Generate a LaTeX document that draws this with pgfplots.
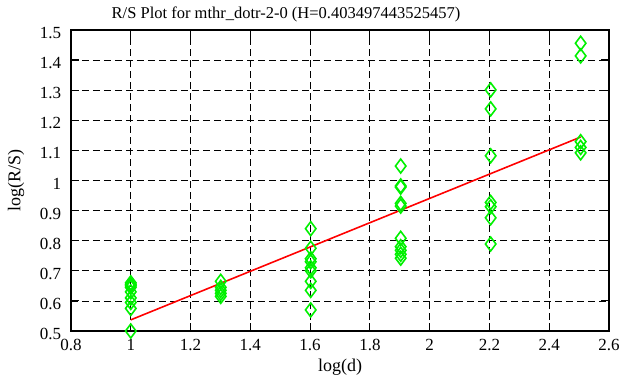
\documentclass[border=0pt]{standalone}
\usepackage{fontspec}
\setmainfont{Liberation Serif}
\usepackage{pgfplots}
\pgfplotsset{compat=1.18}
\usetikzlibrary{calc}
\definecolor{mgreen}{RGB}{0,240,0}
\begin{document}
\fontsize{17bp}{20bp}\selectfont
\begin{tikzpicture}
\begin{axis}[
  scale only axis,
  width=538bp, height=301bp,
  xmin=0.8, xmax=2.6, ymin=0.5, ymax=1.5,
  xtick={0.8,1,1.2,1.4,1.6,1.8,2,2.2,2.4,2.6},
  ytick={0.5,0.6,0.7,0.8,0.9,1,1.1,1.2,1.3,1.4,1.5},
  /pgf/number format/assume math mode=true,
  /pgf/number format/fixed,
  tick align=inside,
  major tick length=8bp,
  tick style={black, line width=1.2pt},
  axis line style={line width=1.5pt},
  grid=major,
  major grid style={black, line width=0.8pt, dash pattern=on 7bp off 4bp},
  ticklabel style={font=\fontsize{17bp}{20bp}\selectfont},
  yticklabel style={xshift=-4bp, yshift=-3bp},
  xticklabel style={yshift=-2bp},
  xlabel={log(d)}, ylabel={log(R/S)},
  label style={font=\fontsize{18bp}{21bp}\selectfont},
  xlabel style={yshift=3bp},
  ylabel style={yshift=4bp},
  title={R/S Plot for mthr\_dotr-2-0 (H=0.403497443525457)},
  title style={font=\fontsize{16.5bp}{19bp}\selectfont, yshift=-4bp, xshift=-54bp},
  clip=false,
]
\addplot[only marks, mark=diamond, mark size=7bp, mgreen, mark options={line width=1.6pt}] coordinates {
(1,0.66) (1,0.655) (1,0.65) (1,0.645) (1,0.63) (1,0.61) (1,0.595) (1,0.575) (1,0.50)
(1.30103,0.665) (1.30103,0.645) (1.30103,0.635) (1.30103,0.625) (1.30103,0.615)
(1.60206,0.84) (1.60206,0.775) (1.60206,0.74) (1.60206,0.73) (1.60206,0.71) (1.60206,0.70) (1.60206,0.665) (1.60206,0.635) (1.60206,0.57)
(1.90309,1.048) (1.90309,0.982) (1.90309,0.978) (1.90309,0.924) (1.90309,0.915) (1.90309,0.808) (1.90309,0.78) (1.90309,0.768) (1.90309,0.755) (1.90309,0.742)
(2.20412,1.301) (2.20412,1.238) (2.20412,1.082) (2.20412,0.927) (2.20412,0.913) (2.20412,0.876) (2.20412,0.789)
(2.50515,1.456) (2.50515,1.414) (2.50515,1.129) (2.50515,1.11) (2.50515,1.092)
};
\addplot[red, line width=1.6pt] coordinates {(1,0.537) (2.50515,1.1443)};
\coordinate (sw) at (rel axis cs:0,0);
\coordinate (ne) at (rel axis cs:1,1);
\end{axis}
\pgfresetboundingbox
\path[use as bounding box] ($(sw)+(-71bp,-56bp)$) rectangle ($(ne)+(17bp,30bp)$);
\end{tikzpicture}
\end{document}
